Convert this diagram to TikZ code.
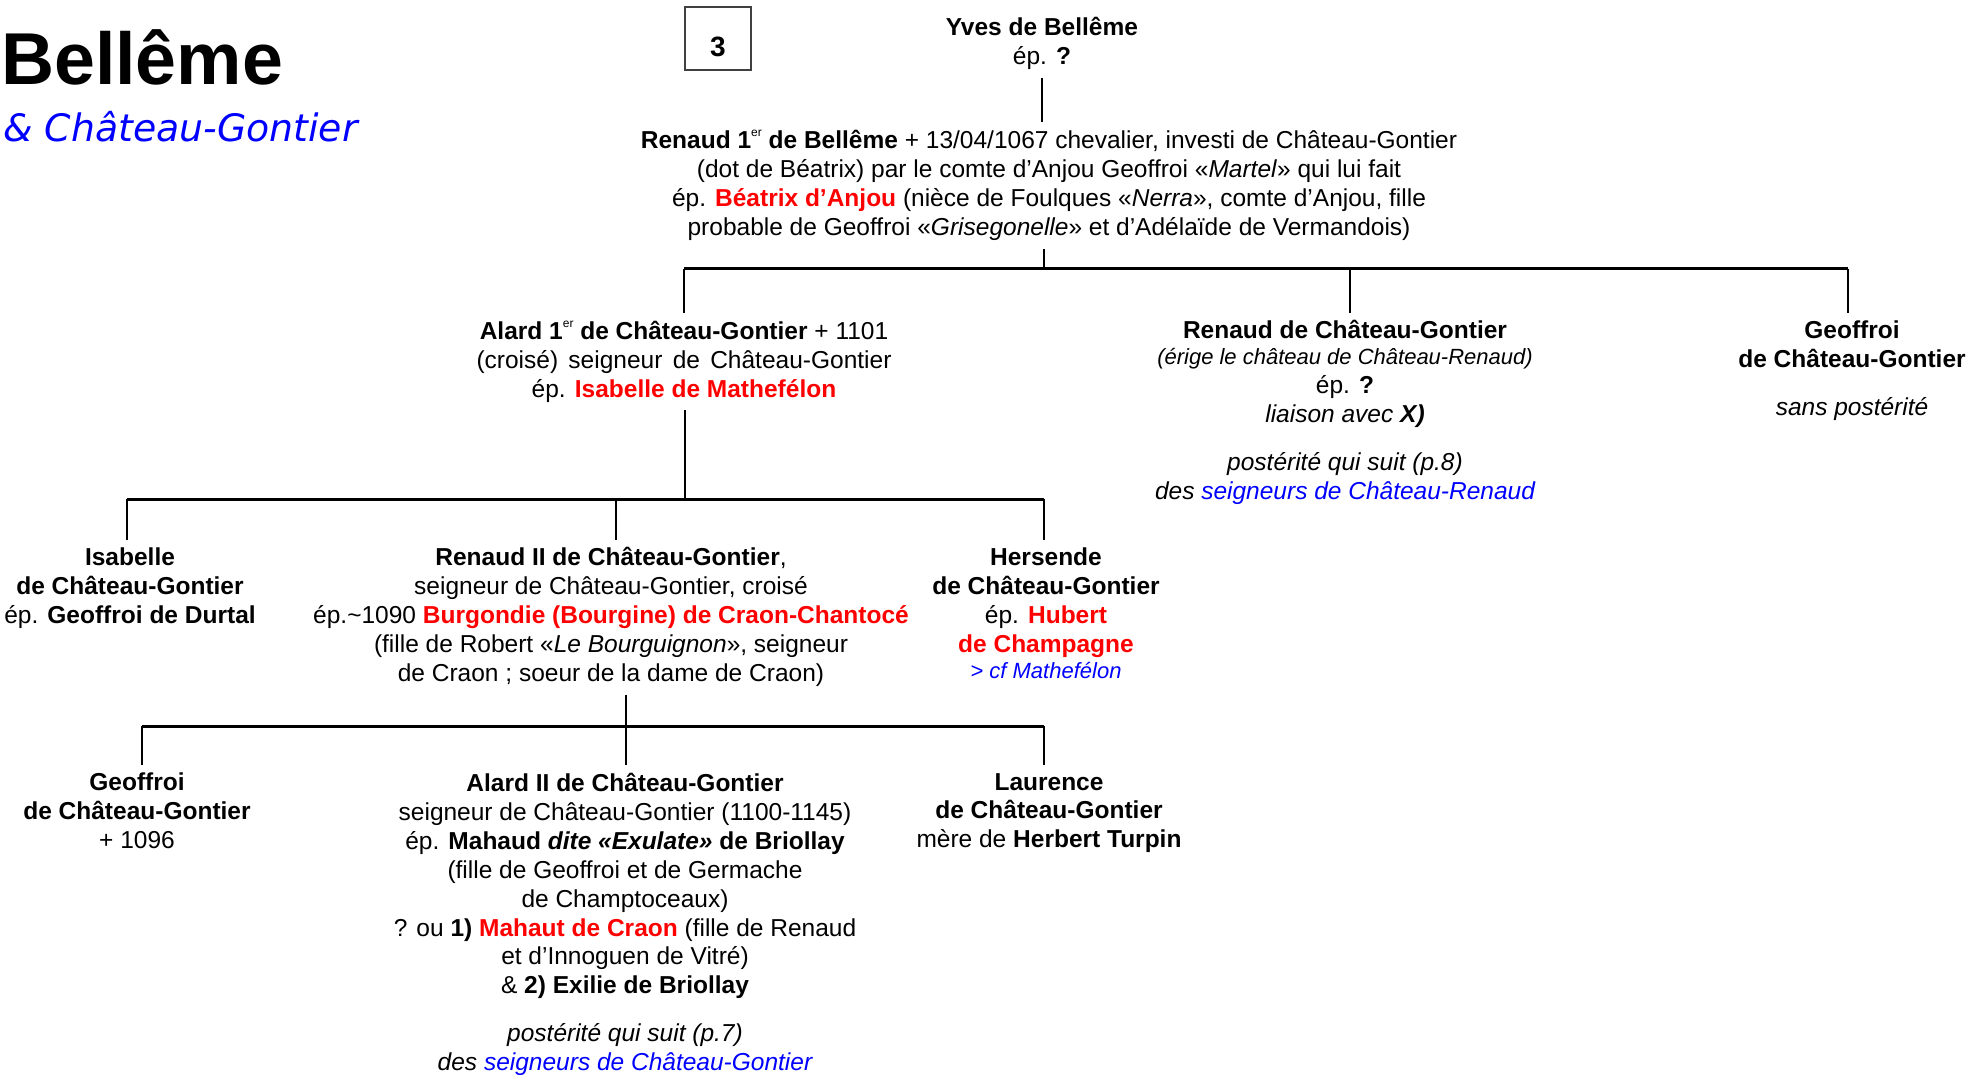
\documentclass[tikz,border=0pt]{standalone}
\usepackage{fontspec}
\setmainfont{Liberation Sans}
\newfontfamily\subtitlefont{DejaVu Sans}
\usetikzlibrary{positioning}
\definecolor{famRed}{HTML}{FF0000}
\definecolor{famBlue}{HTML}{0000FF}
\definecolor{boxGrey}{HTML}{404040}
\tikzset{
  % one node per person or couple, text set like the page it comes from
  person/.style   = {anchor=north, align=center, inner xsep=0pt, inner ysep=8pt,
                     font=\fontsize{24.5}{28.9}\selectfont},
  vline/.style    = {line width=2pt, black},
  hline/.style    = {line width=3pt, black},
}
\newcommand{\redname}[1]{\textcolor{famRed}{\textbf{#1}}}
\newcommand{\smallnote}[1]{{\fontsize{22}{26}\selectfont\itshape #1}}
\newcommand{\ordsup}[1]{\raisebox{0.5em}{\fontsize{12}{12}\selectfont\mdseries #1}}

\begin{document}
\begin{tikzpicture}[x=1pt,y=-1pt]
  \useasboundingbox (0,0) rectangle (1986,1075);
  % title
  \node[anchor=base west, inner sep=0pt, font=\fontsize{73.5}{80}\selectfont\bfseries]
    (title) at (1,85) {Bellême};
  \node[anchor=base west, inner sep=0pt, font=\fontsize{37.8}{42}\selectfont\subtitlefont\itshape,
        text=famBlue] (subtitle) at (3,142) {\& Château-Gontier};
  % page number
  \draw[boxGrey, line width=2pt] (685,7) rectangle (751,70);
  \node[anchor=base, inner sep=0pt, font=\fontsize{28}{32}\selectfont\bfseries]
    (pagenum) at (718,57) {3};

  % generation 0 and 1
  \node[person] (yves) at (1042,9.5) {\textbf{Yves de Bellême}\\ ép. \textbf{?}};
  \node[person] (renaud1) at (1049,122) {\textbf{Renaud 1\ordsup{er} de Bellême} + 13/04/1067 chevalier, investi de Château-Gontier\\
    (dot de Béatrix) par le comte d’Anjou Geoffroi «\textit{Martel}» qui lui fait\\
    ép. \redname{Béatrix d’Anjou} (nièce de Foulques «\textit{Nerra}», comte d’Anjou, fille\\
    probable de Geoffroi «\textit{Grisegonelle}» et d’Adélaïde de Vermandois)};

  % generation 2
  \node[person] (alard1) at (684,312.5) {\textbf{Alard 1\ordsup{er} de Château-Gontier} + 1101\\
    \makebox[415pt][s]{(croisé) seigneur de Château-Gontier}\\
    ép. \redname{Isabelle de Mathefélon}};
  \node[person] (renaudcr) at (1345,312.5) {\textbf{Renaud de Château-Gontier}\\[-3pt]
    \smallnote{(érige le château de Château-Renaud)}\\
    ép. \textbf{?}\\
    \textit{liaison avec \textbf{X)}}\\[19pt]
    \textit{postérité qui suit (p.8)}\\
    \textit{des \textcolor{famBlue}{seigneurs de Château-Renaud}}};
  \node[person] (geoffroi1) at (1852,312.5) {\textbf{Geoffroi}\\ \textbf{de Château-Gontier}\\[19pt]
    \textit{sans postérité}};

  % generation 3
  \node[person] (isabelle) at (130,539.5) {\textbf{Isabelle}\\ \textbf{de Château-Gontier}\\
    ép. \textbf{Geoffroi de Durtal}};
  \node[person] (renaud2) at (611,539.5) {\textbf{Renaud II de Château-Gontier},\\
    seigneur de Château-Gontier, croisé\\
    ép.\textasciitilde1090 \redname{Burgondie (Bourgine) de Craon-Chantocé}\\
    (fille de Robert «\textit{Le Bourguignon}», seigneur\\
    de Craon ; soeur de la dame de Craon)};
  \node[person] (hersende) at (1046,539.5) {\textbf{Hersende}\\ \textbf{de Château-Gontier}\\
    ép. \redname{Hubert}\\ \redname{de Champagne}\\[-3pt]
    \textcolor{famBlue}{\smallnote{> cf Mathefélon}}};

  % generation 4
  \node[person] (geoffroi2) at (137,765) {\textbf{Geoffroi}\\ \textbf{de Château-Gontier}\\ + 1096};
  \node[person] (alard2) at (625,765) {\textbf{Alard II de Château-Gontier}\\
    seigneur de Château-Gontier (1100-1145)\\
    ép. \textbf{Mahaud \textit{dite «Exulate»} de Briollay}\\
    (fille de Geoffroi et de Germache\\
    de Champtoceaux)\\
    ? ou \textbf{1)} \redname{Mahaut de Craon} (fille de Renaud\\
    et d’Innoguen de Vitré)\\
    \& \textbf{2) Exilie de Briollay}\\[19pt]
    \textit{postérité qui suit (p.7)}\\
    \textit{des \textcolor{famBlue}{seigneurs de Château-Gontier}}};
  \node[person] (laurence) at (1049,765) {\textbf{Laurence}\\ \textbf{de Château-Gontier}\\
    mère de \textbf{Herbert Turpin}};

  % junctions of the tree
  \coordinate (bar1) at (1044,269);
  \coordinate (bar2) at (685,499);
  \coordinate (bar3) at (626,726);

  % connectors
  \draw[vline] (yves.south) -- (yves.south |- renaud1.north);
  \draw[vline] (renaud1.south -| bar1) -- (bar1);
  \draw[hline] (alard1.north |- bar1) -- ([xshift=-4pt]geoffroi1.north |- bar1);
  \foreach \kid/\dx in {alard1/0, renaudcr/5, geoffroi1/-4}
    \draw[vline] ([xshift=\dx pt]\kid.north |- bar1) -- ([xshift=\dx pt]\kid.north);
  \draw[vline] (alard1.south -| bar2) -- (bar2);
  \draw[hline] ([xshift=-3pt]isabelle.north |- bar2) -- ([xshift=-2pt]hersende.north |- bar2);
  \foreach \kid/\dx in {isabelle/-3, renaud2/5, hersende/-2}
    \draw[vline] ([xshift=\dx pt]\kid.north |- bar2) -- ([xshift=\dx pt]\kid.north);
  \draw[vline] (renaud2.south -| bar3) -- (bar3);
  \draw[hline] ([xshift=5pt]geoffroi2.north |- bar3) -- ([xshift=-5pt]laurence.north |- bar3);
  \foreach \kid/\dx in {geoffroi2/5, alard2/1, laurence/-5}
    \draw[vline] ([xshift=\dx pt]\kid.north |- bar3) -- ([xshift=\dx pt]\kid.north);
\end{tikzpicture}
\end{document}
